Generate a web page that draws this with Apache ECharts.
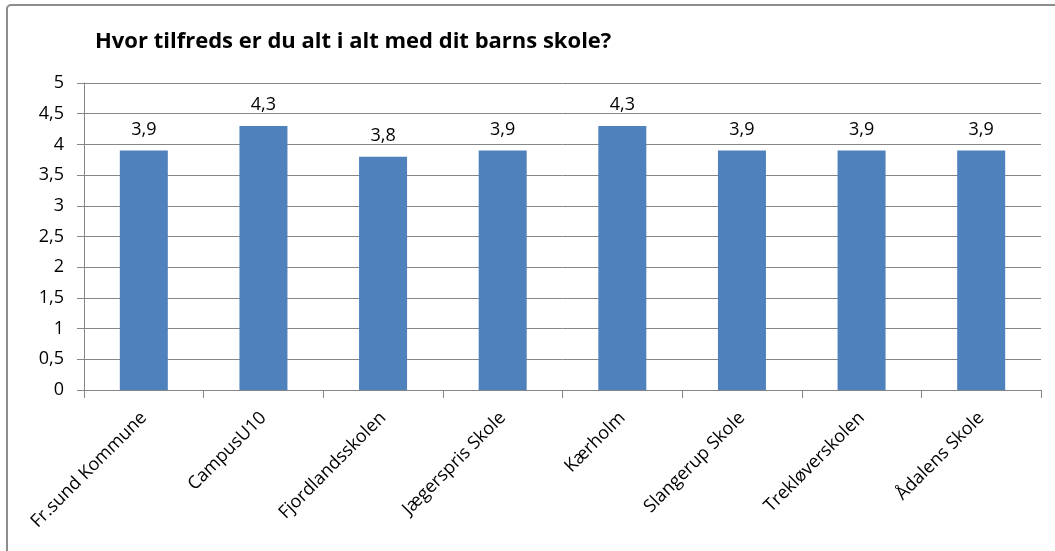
<!DOCTYPE html>
<html><head><meta charset="utf-8">
<script src="https://cdn.jsdelivr.net/npm/echarts@6/dist/echarts.min.js"></script>
<style>html,body{margin:0;padding:0;background:#fff}#c{width:1055px;height:551px}</style>
</head><body><div id="c"></div>
<script>
const title = "Hvor tilfreds er du alt i alt med dit barns skole?";
const categories = ["Fr.sund Kommune","CampusU10","Fjordlandsskolen","Jægerspris Skole","Kærholm","Slangerup Skole","Trekløverskolen","Ådalens Skole"];
const values = [3.9,4.3,3.8,3.9,4.3,3.9,3.9,3.9];
const yMin = 0, yMax = 5, yStep = 0.5;
const fmt = v => String(v).replace('.', ',');
const FONT = '"Open Sans"';
const chart = echarts.init(document.getElementById('c'));
chart.setOption({
  animation:false,
  graphic:[{type:'rect',shape:{x:7,y:5,width:1060,height:560,r:4},style:{fill:'none',stroke:'#8c8c8c',lineWidth:2},silent:true}],
  title:{text:title,left:95,top:31,padding:0,textStyle:{fontFamily:FONT,fontSize:22,fontWeight:'bold',color:'#000'}},
  grid:{left:84,right:14,top:83,bottom:161,containLabel:false},
  xAxis:{type:'category',data:categories,boundaryGap:true,
    axisLine:{lineStyle:{color:'#868686',width:1}},
    axisTick:{show:true,length:8,alignWithLabel:false,lineStyle:{color:'#868686'}},
    axisLabel:{rotate:45,interval:0,margin:25,fontFamily:FONT,fontSize:18,color:'#000'}},
  yAxis:{type:'value',min:yMin,max:yMax,interval:yStep,
    axisLine:{show:true,lineStyle:{color:'#868686'}},
    axisTick:{show:true,length:7,lineStyle:{color:'#868686'}},
    splitLine:{lineStyle:{color:'#868686',width:1}},
    axisLabel:{formatter:fmt,fontFamily:FONT,fontSize:18,color:'#000',margin:20}},
  series:[{type:'bar',data:values,barWidth:48,itemStyle:{color:'#4F81BD'},
    label:{show:true,position:'top',distance:12,formatter:p=>fmt(p.value),fontFamily:FONT,fontSize:18,color:'#000'}}]
});
</script></body></html>
